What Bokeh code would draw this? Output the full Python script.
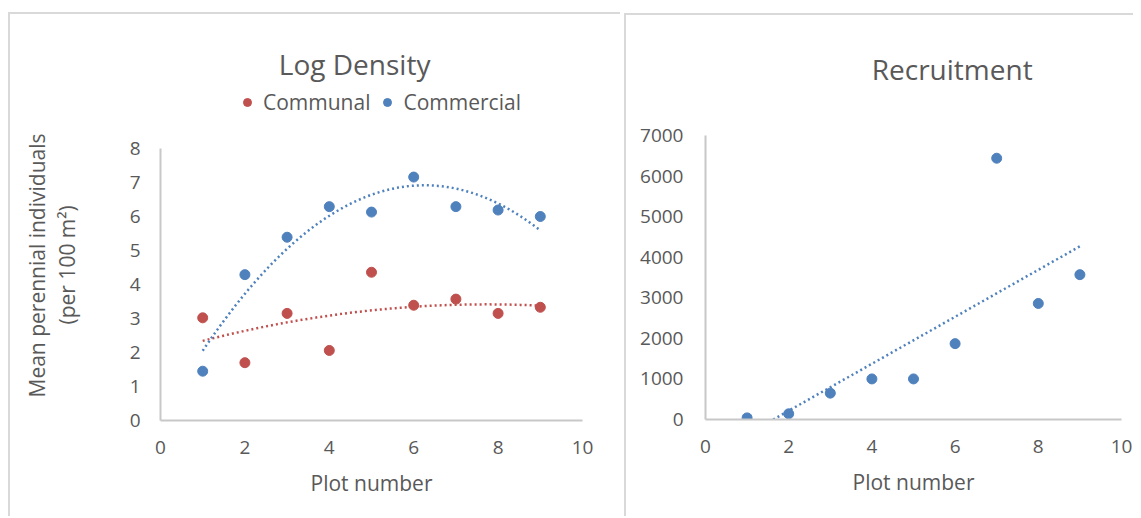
import numpy as np
from bokeh.plotting import figure
from bokeh.models import Range1d, FixedTicker, Legend, LegendItem, Title, Spacer, Label
from bokeh.layouts import row, column
from bokeh.embed import file_html
from bokeh.resources import INLINE

# ---------------- data ----------------
plot_numbers = [1, 2, 3, 4, 5, 6, 7, 8, 9]
communal = [3.02, 1.70, 3.15, 2.06, 4.36, 3.39, 3.57, 3.15, 3.33]
commercial = [1.45, 4.29, 5.39, 6.29, 6.13, 7.16, 6.29, 6.19, 6.00]
recruitment = [40, 140, 650, 1000, 1000, 1870, 6440, 2860, 3570]

x_ticks = [0, 2, 4, 6, 8, 10]
density_ticks = [0, 1, 2, 3, 4, 5, 6, 7, 8]
recruit_ticks = [0, 1000, 2000, 3000, 4000, 5000, 6000, 7000]

title_left = "Log Density"
title_right = "Recruitment"
x_title = "Plot number"
y_title_1 = "Mean perennial individuals"
y_title_2 = "(per 100 m\u00b2)"
series_names = ["Communal", "Commercial"]

# ---------------- style ----------------
FONT = "Open Sans"
TXT = "#595959"
RED = "#C0504D"
BLUE = "#4F81BD"
AXIS = "#C8C8C8"
GRAY = {"background-color": "#D9D9D9"}


def style(p, yticks, ystandoff, ymax):
    p.grid.visible = False
    p.outline_line_color = None
    p.background_fill_color = "white"
    p.border_fill_color = "white"
    for ax in (p.xaxis[0], p.yaxis[0]):
        ax.axis_line_color = AXIS
        ax.axis_line_width = 2
        ax.major_tick_line_color = None
        ax.minor_tick_line_color = None
        ax.major_label_text_font = FONT
        ax.major_label_text_font_size = "19px"
        ax.major_label_text_color = TXT
        ax.axis_label_text_font = FONT
        ax.axis_label_text_font_size = "21px"
        ax.axis_label_text_font_style = "normal"
        ax.axis_label_text_color = TXT
    p.xaxis.ticker = FixedTicker(ticks=x_ticks)
    p.yaxis.ticker = FixedTicker(ticks=yticks)
    p.yaxis.bounds = (0, ymax)
    p.xaxis.major_label_standoff = 14
    p.yaxis.major_label_standoff = ystandoff
    p.xaxis.axis_label = x_title
    p.xaxis.axis_label_standoff = 12


def side_title(text, offset):
    return Title(text=text, align="left", offset=offset, standoff=0,
                 vertical_align="bottom", text_font=FONT, text_font_size="21px",
                 text_color=TXT, text_font_style="normal")


def chart_title(text, x, y):
    return Label(x=x, y=y, text=text, text_font=FONT, text_font_size="28px",
                 text_color=TXT, text_align="center", text_baseline="alphabetic")


# ---------------- left chart ----------------
# frame reaches up into the heading area; the y axis itself is bounded to 0..8
p1 = figure(title=None, frame_width=422, frame_height=400,
            min_border_left=150, min_border_right=38,
            min_border_top=6, min_border_bottom=96,
            x_range=Range1d(0, 10), y_range=Range1d(0, 400 / 34),
            output_backend="svg", toolbar_location=None)
style(p1, density_ticks, 14, 8)

xs = np.linspace(1, 9, 120)
c_red = np.polyfit(plot_numbers, communal, 2)
c_blue = np.polyfit(plot_numbers, commercial, 2)
p1.line(xs, np.polyval(c_red, xs), line_color=RED, line_width=2.5, line_dash="2 3")
p1.line(xs, np.polyval(c_blue, xs), line_color=BLUE, line_width=2.5, line_dash="2 3")

r_red = p1.scatter(plot_numbers, communal, size=10, color=RED)
r_blue = p1.scatter(plot_numbers, commercial, size=10, color=BLUE)

legend = Legend(items=[LegendItem(label=series_names[0], renderers=[r_red]),
                       LegendItem(label=series_names[1], renderers=[r_blue])],
                location=(77, 304), orientation="horizontal",
                glyph_width=20, glyph_height=20, label_standoff=6, spacing=7,
                padding=0, margin=0, border_line_color=None,
                background_fill_alpha=0,
                label_text_font=FONT, label_text_font_size="21px",
                label_text_color=TXT)
p1.add_layout(legend)
p1.add_layout(chart_title(title_left, 4.6, 10.49))

p1.add_layout(Title(text=" ", standoff=43, text_font_size="1px",
                    text_color="white"), "left")
p1.add_layout(side_title(y_title_2, 96), "left")
p1.add_layout(side_title(y_title_1, 23), "left")

# ---------------- right chart ----------------
RS = 284 / 7000  # pixels per recruit
p2 = figure(title=None, frame_width=416, frame_height=398,
            min_border_left=79, min_border_right=12,
            min_border_top=6, min_border_bottom=97,
            x_range=Range1d(0, 10), y_range=Range1d(0, 398 / RS),
            output_backend="svg", toolbar_location=None)
style(p2, recruit_ticks, 16, 7000)

slope, intercept = np.polyfit(plot_numbers, recruitment, 1)
x0 = max(-intercept / slope, 0)
lx = np.array([x0, 9])
p2.line(lx, slope * lx + intercept, line_color=BLUE, line_width=2.5, line_dash="2 3")
p2.scatter(plot_numbers, recruitment, size=10, color=BLUE)
p2.add_layout(chart_title(title_right, 5.93, (419 - 68.3) / RS))

# ---------------- panels with light-grey frames ----------------
left_panel = column(
    Spacer(width=612, height=12),
    Spacer(width=612, height=2, styles=GRAY),
    row(Spacer(width=2, height=502, styles=GRAY), p1),
)
right_panel = column(
    Spacer(width=509, height=13),
    Spacer(width=509, height=2, styles=GRAY),
    row(Spacer(width=2, height=501, styles=GRAY), p2),
)
layout = row(Spacer(width=8, height=516), left_panel,
             Spacer(width=4, height=516), right_panel)
open("out.html", "w").write(file_html(layout, INLINE))
